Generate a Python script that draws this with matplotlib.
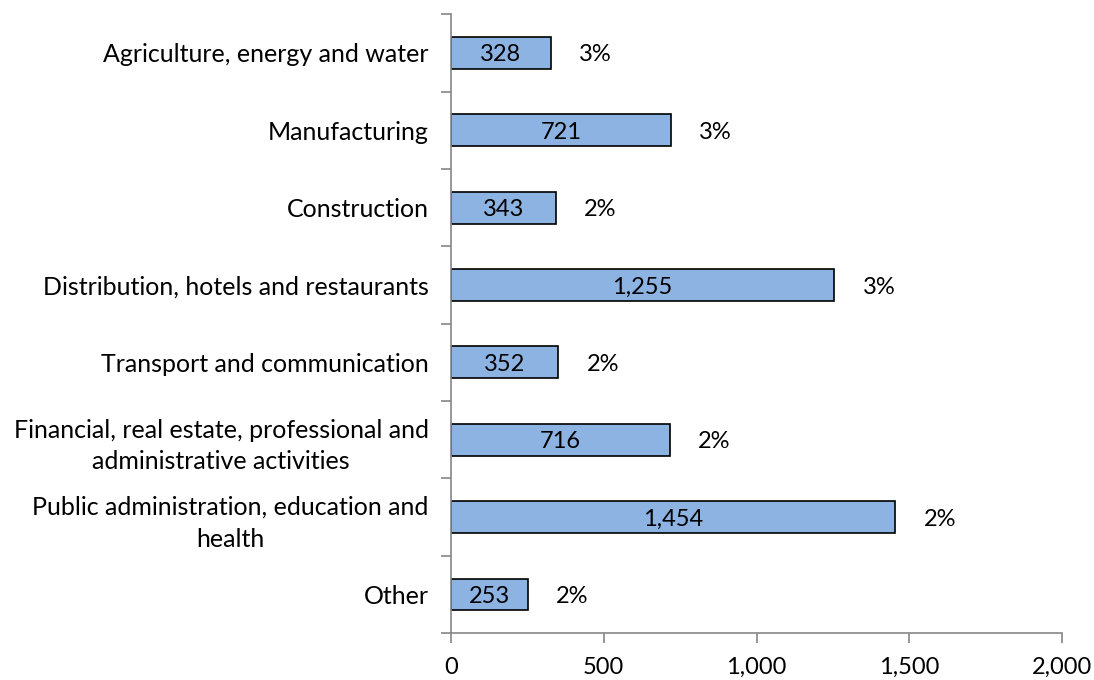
import numpy as np
import matplotlib.pyplot as plt

plt.rcParams['font.family'] = ['Lato', 'DejaVu Sans']

categories = ['Agriculture, energy and water', 'Manufacturing', 'Construction',
              'Distribution, hotels and restaurants', 'Transport and communication',
              'Financial, real estate, professional and\nadministrative activities',
              'Public administration, education and\nhealth', 'Other']
values = [328, 721, 343, 1255, 352, 716, 1454, 253]
percents = ['3%', '3%', '2%', '3%', '2%', '2%', '2%', '2%']

fig = plt.figure(figsize=(10.94, 6.8), dpi=100)
ax = fig.add_axes([0.412, 0.069, 0.559, 0.91])

y = np.arange(len(categories))
ax.barh(y, values, height=0.41, color='#8DB3E2', edgecolor='black', linewidth=1.2)

for yi, v, p in zip(y, values, percents):
    ax.text(v / 2, yi, f'{v:,}', ha='center', va='center_baseline', fontsize=17)
    ax.text(v + 145, yi, p, ha='center', va='center_baseline', fontsize=17)

ax.set_xlim(0, 2000)
ax.set_ylim(len(categories) - 0.5, -0.5)
ax.set_xticks([0, 500, 1000, 1500, 2000])
ax.set_xticklabels(['0', '500', '1,000', '1,500', '2,000'], fontsize=17)

# category labels sit between the boundary ticks
ax.set_yticks(np.arange(len(categories) + 1) - 0.5)
ax.set_yticklabels([])
ax.set_yticks(y, minor=True)
ax.set_yticklabels(categories, minor=True, fontsize=18, ha='right',
                   multialignment='center', linespacing=1.45)
ax.tick_params(axis='y', which='minor', length=0, pad=16)
ax.tick_params(axis='y', which='major', length=7, color='#868686', width=1.2)
ax.tick_params(axis='x', length=7, color='#868686', width=1.2, pad=10)

for s in ['top', 'right']:
    ax.spines[s].set_visible(False)
for s in ['left', 'bottom']:
    ax.spines[s].set_color('#868686')
    ax.spines[s].set_linewidth(1.2)

fig.savefig('out.png', dpi=100)
